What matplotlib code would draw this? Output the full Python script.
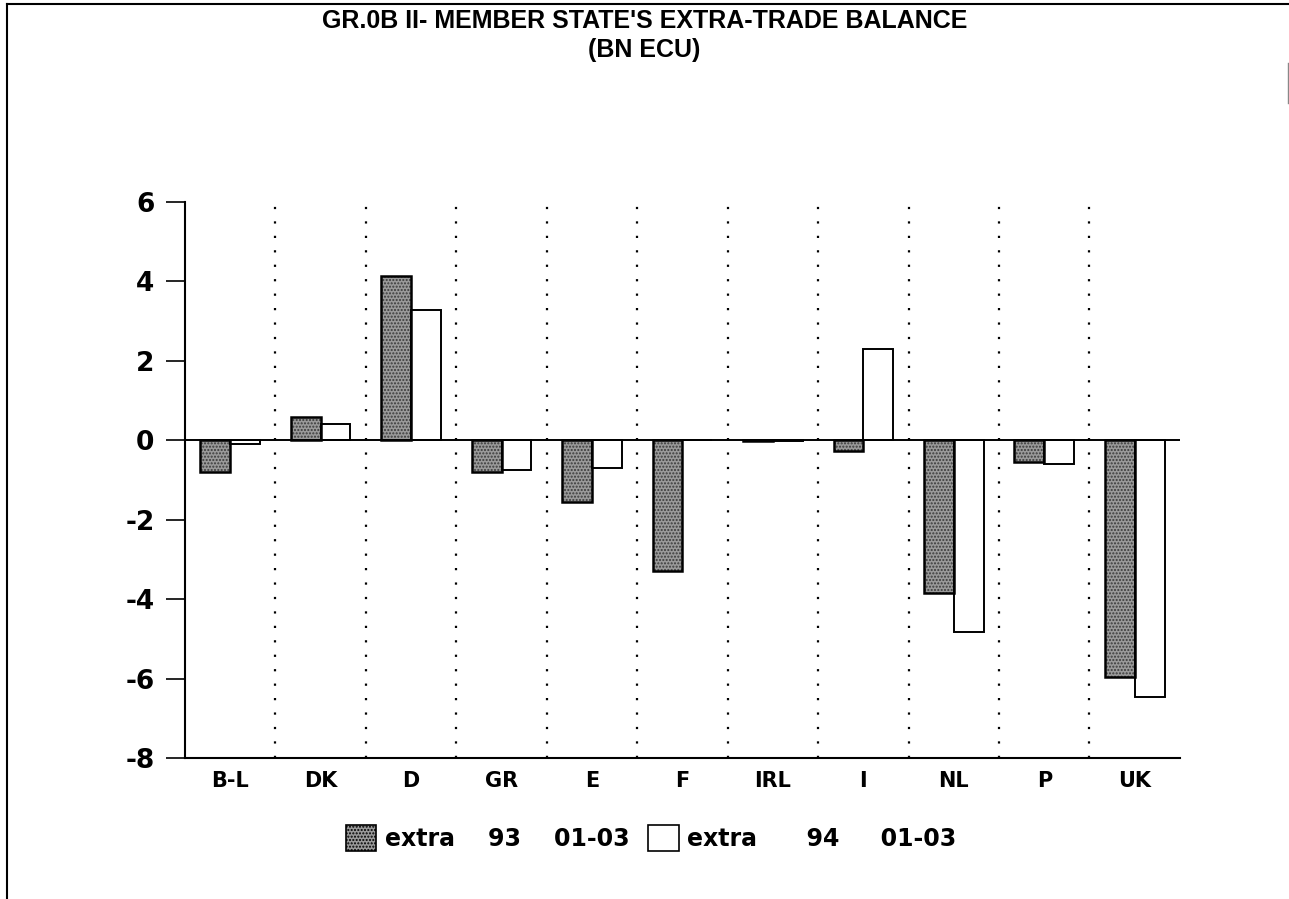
import matplotlib
matplotlib.use("Agg")
import matplotlib.pyplot as plt
import numpy as np
from matplotlib.patches import Patch
from matplotlib.lines import Line2D

categories = ["B-L", "DK", "D", "GR", "E", "F", "IRL", "I", "NL", "P", "UK"]
extra_93 = [-0.80, 0.58, 4.13, -0.80, -1.56, -3.30, -0.03, -0.27, -3.84, -0.55, -5.96]
extra_94 = [-0.10, 0.40, 3.27, -0.75, -0.70, 0.00, -0.02, 2.30, -4.83, -0.60, -6.47]
yticks = [6, 4, 2, 0, -2, -4, -6, -8]
title = "GR.0B II- MEMBER STATE'S EXTRA-TRADE BALANCE\n(BN ECU)"
legend_labels = ["extra    93    01-03", "extra      94     01-03"]

plt.rcParams['font.family'] = ['DejaVu Sans']
plt.rcParams['font.weight'] = 'bold'
plt.rcParams['hatch.linewidth'] = 1.0

fig = plt.figure(figsize=(12.89, 8.99), dpi=100)
ax = fig.add_axes([0.1435, 0.1568, 0.7719, 0.6185])

x = np.arange(len(categories))
w = 0.33
gray = '#9a9a9a'
ax.bar(x - w/2, extra_93, width=w, color=gray, edgecolor='#3a3a3a', hatch='.....', linewidth=0, zorder=3)
ax.bar(x - w/2, extra_93, width=w, fill=False, edgecolor='black', linewidth=1.8, zorder=4)
ax.bar(x + w/2, extra_94, width=w, color='white', edgecolor='black', linewidth=1.4, zorder=3)

ax.axhline(0, color='black', linewidth=1.4, zorder=5)
for xi in x[:-1]:
    ax.axvline(xi + 0.5, color='black', linestyle=(0, (1, 5.5)), linewidth=1.6, zorder=1)

ax.set_xlim(-0.5, len(categories) - 0.5)
ax.set_ylim(-8, 6)
ax.set_yticks(yticks)
ax.set_yticklabels([str(v) for v in yticks], fontsize=19, fontweight='bold')
ax.set_xticks(x)
ax.set_xticklabels(categories, fontsize=15, fontweight='bold')
ax.tick_params(axis='y', direction='out', length=14, width=1.2, pad=8)
ax.tick_params(axis='x', length=0, pad=9)
ax.spines['top'].set_visible(False)
ax.spines['right'].set_visible(False)
ax.spines['left'].set_linewidth(1.5)
ax.spines['bottom'].set_linewidth(1.5)

fig.text(0.5, 0.99, title, ha='center', va='top', fontsize=18, fontweight='bold',
         linespacing=1.25, family=['Liberation Sans', 'DejaVu Sans'])

handles = [Patch(facecolor=gray, edgecolor='black', hatch='.....', linewidth=1.2),
           Patch(facecolor='white', edgecolor='black', linewidth=1.2)]
fig.legend(handles, legend_labels, loc='center', bbox_to_anchor=(0.505, 0.068), ncol=2,
           frameon=False, handlelength=1.3, handleheight=1.3,
           handletextpad=0.35, columnspacing=0.8, prop={'weight': 'bold', 'size': 17})

# outer frame lines
fig.add_artist(Line2D([0.0055, 0.0055], [0.0, 0.995], transform=fig.transFigure, color='black', linewidth=1.5))
fig.add_artist(Line2D([0.0055, 1.0], [0.995, 0.995], transform=fig.transFigure, color='black', linewidth=1.5))
fig.add_artist(Line2D([0.999, 0.999], [0.885, 0.93], transform=fig.transFigure, color='#888888', linewidth=1.0))

fig.savefig("out.png", dpi=100)
